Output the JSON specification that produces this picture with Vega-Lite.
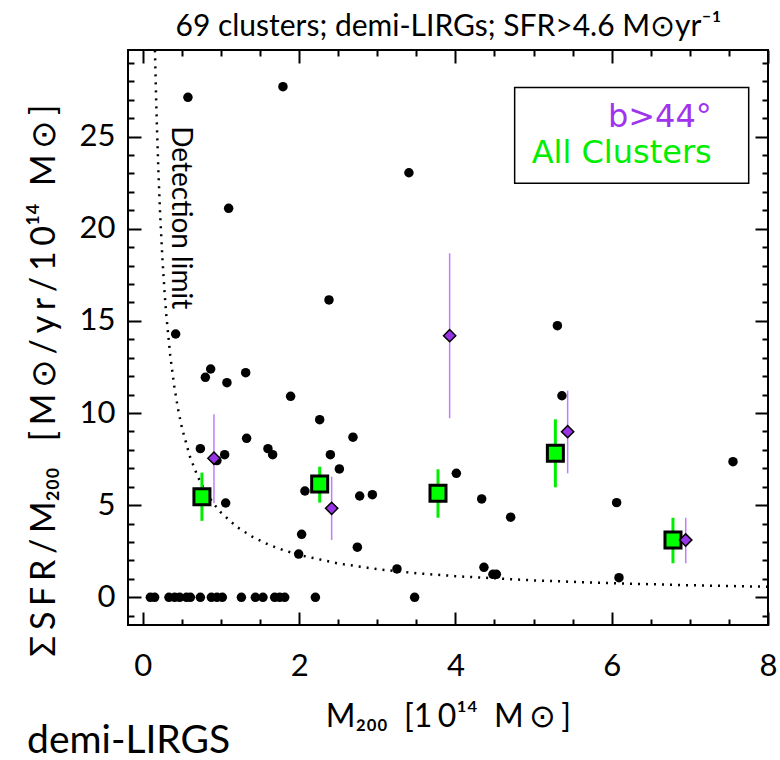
{
  "$schema": "https://vega.github.io/schema/vega-lite/v6.json",
  "width": 640,
  "height": 575,
  "autosize": "none",
  "padding": {"left": 128, "top": 50, "right": 12, "bottom": 135},
  "background": "white",
  "title": {"text": "demi-LIRGS", "orient": "bottom", "anchor": "start", "frame": "bounds", "font": "Lato", "fontSize": 39, "fontWeight": "normal", "color": "black", "offset": -10},
  "config": {
    "view": {"stroke": "black", "strokeWidth": 2},
    "axis": {"labelFont": "Lato", "labelFontSize": 31, "labelColor": "black", "titleFont": "Lato", "titleFontSize": 30, "titleFontWeight": "normal", "titleColor": "black"}
  },
  "datasets": {
    "pts": [
      {"m": 0.577, "s": 27.13}, {"m": 1.793, "s": 27.71}, {"m": 1.098, "s": 21.11}, {"m": 2.382, "s": 16.14},
      {"m": 0.420, "s": 14.29}, {"m": 0.800, "s": 11.94}, {"m": 0.868, "s": 12.39}, {"m": 1.076, "s": 11.65},
      {"m": 1.316, "s": 12.19}, {"m": 1.891, "s": 10.91}, {"m": 2.263, "s": 9.64}, {"m": 2.689, "s": 8.69},
      {"m": 0.736, "s": 8.07}, {"m": 1.328, "s": 8.63}, {"m": 1.601, "s": 8.07}, {"m": 1.661, "s": 7.74},
      {"m": 1.047, "s": 7.74}, {"m": 2.400, "s": 7.74}, {"m": 2.515, "s": 6.97}, {"m": 2.074, "s": 5.77},
      {"m": 2.775, "s": 5.50}, {"m": 2.937, "s": 5.57}, {"m": 1.060, "s": 5.12}, {"m": 2.032, "s": 3.42},
      {"m": 2.745, "s": 2.72}, {"m": 1.994, "s": 2.35}, {"m": 5.305, "s": 14.74}, {"m": 5.363, "s": 10.94},
      {"m": 4.012, "s": 6.73}, {"m": 4.336, "s": 5.34}, {"m": 4.707, "s": 4.35}, {"m": 6.063, "s": 5.14},
      {"m": 7.552, "s": 7.36}, {"m": 3.252, "s": 1.54}, {"m": 4.365, "s": 1.63}, {"m": 4.480, "s": 1.25},
      {"m": 4.524, "s": 1.25}, {"m": 6.093, "s": 1.07}, {"m": 3.405, "s": 23.04}, {"m": 0.948, "s": 7.42},
      {"m": 0.096, "s": 0}, {"m": 0.151, "s": 0}, {"m": 0.334, "s": 0}, {"m": 0.407, "s": 0},
      {"m": 0.471, "s": 0}, {"m": 0.559, "s": 0}, {"m": 0.608, "s": 0}, {"m": 0.736, "s": 0},
      {"m": 0.877, "s": 0}, {"m": 0.948, "s": 0}, {"m": 1.017, "s": 0}, {"m": 1.261, "s": 0},
      {"m": 1.440, "s": 0}, {"m": 1.537, "s": 0}, {"m": 1.687, "s": 0}, {"m": 1.751, "s": 0},
      {"m": 1.815, "s": 0}, {"m": 2.208, "s": 0}, {"m": 3.478, "s": 0}
    ],
    "curve": [
      {"m": 0.155, "s": 29.68}, {"m": 0.16, "s": 28.75}, {"m": 0.17, "s": 27.06}, {"m": 0.18, "s": 25.56},
      {"m": 0.2, "s": 23.0}, {"m": 0.22, "s": 20.91}, {"m": 0.25, "s": 18.4}, {"m": 0.28, "s": 16.43},
      {"m": 0.3, "s": 15.33}, {"m": 0.35, "s": 13.14}, {"m": 0.4, "s": 11.5}, {"m": 0.45, "s": 10.22},
      {"m": 0.5, "s": 9.2}, {"m": 0.6, "s": 7.67}, {"m": 0.7, "s": 6.57}, {"m": 0.8, "s": 5.75},
      {"m": 0.9, "s": 5.11}, {"m": 1.0, "s": 4.6}, {"m": 1.2, "s": 3.83}, {"m": 1.4, "s": 3.29},
      {"m": 1.6, "s": 2.875}, {"m": 1.8, "s": 2.56}, {"m": 2.0, "s": 2.3}, {"m": 2.5, "s": 1.84},
      {"m": 3.0, "s": 1.53}, {"m": 3.5, "s": 1.31}, {"m": 4.0, "s": 1.15}, {"m": 5.0, "s": 0.92},
      {"m": 6.0, "s": 0.767}, {"m": 7.0, "s": 0.657}, {"m": 8.0, "s": 0.575}
    ],
    "green": [
      {"m": 0.756, "s": 5.46, "lo": 4.15, "hi": 6.77},
      {"m": 2.263, "s": 6.15, "lo": 5.14, "hi": 7.09},
      {"m": 3.777, "s": 5.65, "lo": 4.32, "hi": 6.95},
      {"m": 5.279, "s": 7.82, "lo": 5.97, "hi": 9.66},
      {"m": 6.784, "s": 3.11, "lo": 1.85, "hi": 4.32}
    ],
    "purple": [
      {"m": 0.910, "s": 7.55, "lo": 5.11, "hi": 9.93},
      {"m": 2.416, "s": 4.83, "lo": 3.11, "hi": 6.55},
      {"m": 3.926, "s": 14.20, "lo": 9.72, "hi": 18.67},
      {"m": 5.436, "s": 8.99, "lo": 6.73, "hi": 11.22},
      {"m": 6.947, "s": 3.11, "lo": 1.85, "hi": 4.32}
    ],
    "legendbox": [{"x1": 4.758, "x2": 7.753, "y1": 22.47, "y2": 27.66}],
    "legendtext": [
      {"m": 7.28, "s": 26.07, "t": "b>44°", "c": "#a033ee"},
      {"m": 7.28, "s": 24.11, "t": "All Clusters", "c": "#00ee00"}
    ],
    "notes": [{"m": 0.48, "s": 20.6, "t": "Detection limit"}]
  },
  "resolve": {"axis": {"x": "independent", "y": "independent"}},
  "layer": [
    {
      "data": {"name": "curve"},
      "mark": {"type": "line", "color": "black", "strokeWidth": 2.5, "strokeDash": [2, 6], "clip": true},
      "encoding": {
        "x": {"field": "m", "type": "quantitative", "scale": {"domain": [-0.19, 8], "nice": false, "zero": false},
          "axis": {"orient": "bottom", "values": [0, 2, 4, 6, 8], "tickSize": -13, "tickColor": "black", "tickWidth": 2, "grid": false, "domain": false, "labelFlush": false,
            "labelPadding": 39, "title": "M₂₀₀\u00a0\u00a0[1\u20060¹⁴\u00a0\u00a0M\u2006⊙\u2006]", "titleFontSize": 32, "titlePadding": 20}},
        "y": {"field": "s", "type": "quantitative", "scale": {"domain": [-1.5, 29.7], "nice": false, "zero": false},
          "axis": {"orient": "left", "values": [0, 5, 10, 15, 20, 25], "tickSize": -13, "tickColor": "black", "tickWidth": 2, "grid": false, "domain": false, "labelFlush": false,
            "labelPadding": 26, "title": "Σ\u2006S\u2006F\u2006R\u2006/\u2006M₂₀₀\u00a0\u00a0\u00a0[\u2006M\u2006⊙\u2006/\u2006y\u2006r\u2006/\u20061\u20060¹⁴\u00a0\u00a0M\u2006⊙\u2006]", "titleFontSize": 34, "titlePadding": 18, "titleY": 330}}
      }
    },
    {
      "data": {"name": "pts"},
      "mark": {"type": "circle", "color": "black", "size": 90, "opacity": 1},
      "encoding": {
        "x": {"field": "m", "type": "quantitative", "scale": {"domain": [-0.19, 8], "nice": false, "zero": false},
          "axis": {"orient": "top", "values": [0, 2, 4, 6, 8], "tickSize": -13, "tickColor": "black", "tickWidth": 2, "grid": false, "domain": false,
            "labels": false, "title": "69 clusters; demi-LIRGs; SFR>4.6 M⊙yr⁻¹", "titlePadding": 8}},
        "y": {"field": "s", "type": "quantitative", "scale": {"domain": [-1.5, 29.7], "nice": false, "zero": false},
          "axis": {"orient": "right", "values": [0, 5, 10, 15, 20, 25], "tickSize": -13, "tickColor": "black", "tickWidth": 2, "grid": false, "domain": false, "labels": false, "title": null}}
      }
    },
    {
      "data": {"name": "green"},
      "mark": {"type": "rule", "color": "#00ee00", "strokeWidth": 3},
      "encoding": {
        "x": {"field": "m", "type": "quantitative", "scale": {"domain": [-0.19, 8], "nice": false, "zero": false},
          "axis": {"orient": "bottom", "values": [0.5, 1, 1.5, 2.5, 3, 3.5, 4.5, 5, 5.5, 6.5, 7, 7.5], "tickSize": -6, "tickColor": "black", "tickWidth": 2, "grid": false, "domain": false, "labels": false, "title": null}},
        "y": {"field": "lo", "type": "quantitative", "scale": {"domain": [-1.5, 29.7], "nice": false, "zero": false},
          "axis": {"orient": "left", "values": [-1, 1, 2, 3, 4, 6, 7, 8, 9, 11, 12, 13, 14, 16, 17, 18, 19, 21, 22, 23, 24, 26, 27, 28, 29], "tickSize": -6, "tickColor": "black", "tickWidth": 2, "grid": false, "domain": false, "labels": false, "title": null}},
        "y2": {"field": "hi"}
      }
    },
    {
      "data": {"name": "purple"},
      "mark": {"type": "rule", "color": "#c07cff", "strokeWidth": 1.5},
      "encoding": {
        "x": {"field": "m", "type": "quantitative", "scale": {"domain": [-0.19, 8], "nice": false, "zero": false},
          "axis": {"orient": "top", "values": [0.5, 1, 1.5, 2.5, 3, 3.5, 4.5, 5, 5.5, 6.5, 7, 7.5], "tickSize": -6, "tickColor": "black", "tickWidth": 2, "grid": false, "domain": false, "labels": false, "title": null}},
        "y": {"field": "lo", "type": "quantitative", "scale": {"domain": [-1.5, 29.7], "nice": false, "zero": false},
          "axis": {"orient": "right", "values": [-1, 1, 2, 3, 4, 6, 7, 8, 9, 11, 12, 13, 14, 16, 17, 18, 19, 21, 22, 23, 24, 26, 27, 28, 29], "tickSize": -6, "tickColor": "black", "tickWidth": 2, "grid": false, "domain": false, "labels": false, "title": null}},
        "y2": {"field": "hi"}
      }
    },
    {
      "data": {"name": "notes"},
      "mark": {"type": "text", "angle": 90, "font": "Lato", "fontSize": 28, "color": "black", "align": "center", "baseline": "middle"},
      "encoding": {
        "x": {"field": "m", "type": "quantitative", "scale": {"domain": [-0.19, 8], "nice": false, "zero": false}, "axis": null},
        "y": {"field": "s", "type": "quantitative", "scale": {"domain": [-1.5, 29.7], "nice": false, "zero": false}, "axis": null},
        "text": {"field": "t"}
      }
    },
    {
      "data": {"name": "green"},
      "mark": {"type": "point", "shape": "square", "filled": true, "fill": "#00ff00", "stroke": "black", "strokeWidth": 3, "size": 256, "opacity": 1},
      "encoding": {
        "x": {"field": "m", "type": "quantitative", "scale": {"domain": [-0.19, 8], "nice": false, "zero": false}, "axis": null},
        "y": {"field": "s", "type": "quantitative", "scale": {"domain": [-1.5, 29.7], "nice": false, "zero": false}, "axis": null}
      }
    },
    {
      "data": {"name": "purple"},
      "mark": {"type": "point", "shape": "diamond", "filled": true, "fill": "#9933e6", "stroke": "black", "strokeWidth": 1.5, "size": 150, "opacity": 1},
      "encoding": {
        "x": {"field": "m", "type": "quantitative", "scale": {"domain": [-0.19, 8], "nice": false, "zero": false}, "axis": null},
        "y": {"field": "s", "type": "quantitative", "scale": {"domain": [-1.5, 29.7], "nice": false, "zero": false}, "axis": null}
      }
    },
    {
      "data": {"name": "legendbox"},
      "mark": {"type": "rect", "fill": "white", "stroke": "black", "strokeWidth": 1.5},
      "encoding": {
        "x": {"field": "x1", "type": "quantitative", "scale": {"domain": [-0.19, 8], "nice": false, "zero": false}, "axis": null},
        "x2": {"field": "x2"},
        "y": {"field": "y1", "type": "quantitative", "scale": {"domain": [-1.5, 29.7], "nice": false, "zero": false}, "axis": null},
        "y2": {"field": "y2"}
      }
    },
    {
      "data": {"name": "legendtext"},
      "mark": {"type": "text", "font": "DejaVu Sans", "fontSize": 32, "align": "right", "baseline": "middle"},
      "encoding": {
        "x": {"field": "m", "type": "quantitative", "scale": {"domain": [-0.19, 8], "nice": false, "zero": false}, "axis": null},
        "y": {"field": "s", "type": "quantitative", "scale": {"domain": [-1.5, 29.7], "nice": false, "zero": false}, "axis": null},
        "text": {"field": "t"},
        "color": {"field": "c", "type": "nominal", "scale": null}
      }
    }
  ]
}
